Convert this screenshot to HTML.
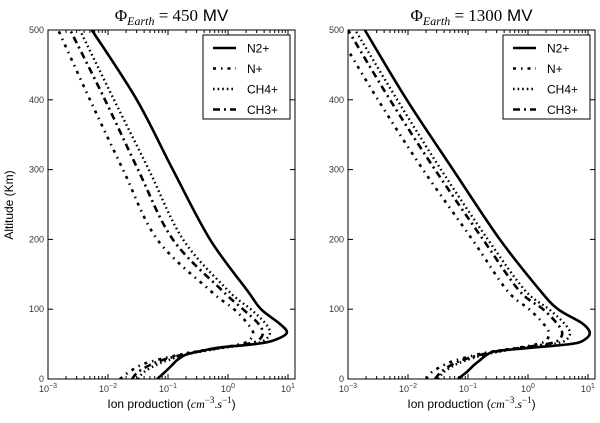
<!DOCTYPE html>
<html><head><meta charset="utf-8"><style>
body{margin:0;background:#fff;width:600px;height:418px;overflow:hidden}
svg text{font-family:"Liberation Sans",sans-serif}
</style></head><body>
<svg id="c" width="600" height="418" viewBox="0 0 600 418" xmlns="http://www.w3.org/2000/svg"></svg>
<script>
const altitudes=[0,10,20,27,35,40,45,50,55,66,80,100,127,200,300,400,500];
const seriesNames=["N2+","N+","CH4+","CH3+"];
// log10 values, stored as production values
const leftN2=[-1.18,-1.05,-0.93,-0.85,-0.7,-0.45,-0.15,0.45,0.75,0.98,0.85,0.55,0.32,-0.30,-0.92,-1.52,-2.27].map(v=>Math.pow(10,v));
const leftN=[-1.8,-1.65,-1.45,-1.2,-0.8,-0.5,-0.1,0.2,0.35,0.42,0.32,0.1,-0.3,-1.18,-1.75,-2.3,-2.83].map(v=>Math.pow(10,v));
const leftCH4=[-1.5,-1.4,-1.2,-1.0,-0.7,-0.4,-0.05,0.4,0.6,0.7,0.62,0.38,0.0,-0.75,-1.32,-1.9,-2.47].map(v=>Math.pow(10,v));
const leftCH3=[-1.6,-1.5,-1.3,-1.1,-0.75,-0.45,-0.1,0.3,0.5,0.58,0.5,0.25,-0.1,-0.92,-1.5,-2.05,-2.63].map(v=>Math.pow(10,v));
const rightN2=[-1.17,-1.02,-0.9,-0.8,-0.68,-0.52,0.08,0.7,0.92,1.03,0.9,0.5,0.2,-0.47,-1.25,-2.02,-2.72].map(v=>Math.pow(10,v));
const rightN=[-1.7,-1.6,-1.4,-1.2,-0.85,-0.55,-0.15,0.15,0.3,0.35,0.25,0.02,-0.35,-0.93,-1.75,-2.5,-3.2].map(v=>Math.pow(10,v));
const rightCH4=[-1.5,-1.4,-1.22,-1.02,-0.72,-0.42,-0.05,0.4,0.62,0.7,0.6,0.35,-0.05,-0.67,-1.45,-2.18,-2.88].map(v=>Math.pow(10,v));
const rightCH3=[-1.55,-1.45,-1.28,-1.1,-0.78,-0.48,-0.1,0.3,0.5,0.57,0.48,0.25,-0.15,-0.75,-1.55,-2.3,-3.0].map(v=>Math.pow(10,v));
const yTicks=[0,100,200,300,400,500];
const xTickExps=[-3,-2,-1,0,1];
const titles=["450","1300"];

const NS="http://www.w3.org/2000/svg";
const svg=document.getElementById('c');
function mk(tag,attrs,parent){const e=document.createElementNS(NS,tag);for(const k in attrs)e.setAttribute(k,attrs[k]);(parent||svg).appendChild(e);return e;}
const styles=[{w:2.6,d:""},{w:2.6,d:"3,5,1.5,5"},{w:2.4,d:"1.6,3"},{w:2.6,d:"7,4,2,4"}];

function panel(ox,idx,data){
  const L=ox+48,R=ox+295,T=30,B=379,dec=60;
  const xs=v=>L+(Math.log10(v)+3)*dec;
  const ys=a=>B-(a/500)*(B-T);
  const g=mk('g',{},svg);
  
  
  const cid='clip'+idx;
  const cp=mk('clipPath',{id:cid},g);mk('rect',{x:L,y:T,width:R-L,height:B-T},cp);
  // series
  data.forEach((arr,si)=>{
    const pts=arr.map((v,i)=>[xs(v),ys(altitudes[i])]);
    let d="M"+pts[0][0].toFixed(1)+","+pts[0][1].toFixed(1);
    for(let i=0;i<pts.length-1;i++){
      const p0=pts[Math.max(0,i-1)],p1=pts[i],p2=pts[i+1],p3=pts[Math.min(pts.length-1,i+2)];
      const c1=[p1[0]+(p2[0]-p0[0])/6,p1[1]+(p2[1]-p0[1])/6];
      const c2=[p2[0]-(p3[0]-p1[0])/6,p2[1]-(p3[1]-p1[1])/6];
      d+=" C"+c1[0].toFixed(1)+","+c1[1].toFixed(1)+" "+c2[0].toFixed(1)+","+c2[1].toFixed(1)+" "+p2[0].toFixed(1)+","+p2[1].toFixed(1);
    }
    const p=mk('path',{d:d,fill:"none",stroke:"#000","stroke-width":styles[si].w,"stroke-dasharray":styles[si].d,"clip-path":"url(#"+cid+")"},g);
    
    
  });
  // frame
  const fr=mk('rect',{x:L,y:T,width:R-L,height:B-T,fill:"none",stroke:"#000","stroke-width":1},g);
  
  
  // y ticks
  yTicks.forEach(t=>{
    const y=ys(t);
    mk('line',{x1:L,x2:L+5,y1:y,y2:y,stroke:"#000"},g);
    mk('line',{x1:R-5,x2:R,y1:y,y2:y,stroke:"#000"},g);
    const tx=mk('text',{x:L-4,y:y+3,"font-size":9,"text-anchor":"end",fill:"#333"},g);
    tx.textContent=t;
    
    
  });
  // x ticks
  xTickExps.forEach(e=>{
    const x=L+(e+3)*dec;
    mk('line',{x1:x,x2:x,y1:B,y2:B-5,stroke:"#000"},g);
    mk('line',{x1:x,x2:x,y1:T,y2:T+5,stroke:"#000"},g);
    if(e<1){for(let m=2;m<10;m++){const xm=x+Math.log10(m)*dec;if(xm<R){mk('line',{x1:xm,x2:xm,y1:B,y2:B-3,stroke:"#000"},g);mk('line',{x1:xm,x2:xm,y1:T,y2:T+3,stroke:"#000"},g);}}}
    const tx=mk('text',{x:x,y:B+13,"font-size":9,"text-anchor":"middle",fill:"#333"},g);
    tx.innerHTML='10<tspan dy="-4" font-size="7">'+(e<0?'\u2212'+(-e):e)+'</tspan>';
    
    
  });
  // x label
  const xl=mk('text',{x:(L+R)/2,y:408,"font-size":12,"text-anchor":"middle"},g);
  xl.innerHTML='Ion production (<tspan font-family="Liberation Serif" font-style="italic">cm</tspan><tspan dy="-5" font-size="9" font-family="Liberation Serif">\u22123</tspan><tspan dy="5" font-family="Liberation Serif">.</tspan><tspan font-family="Liberation Serif" font-style="italic">s</tspan><tspan dy="-5" font-size="9" font-family="Liberation Serif">\u22121</tspan><tspan dy="5">)</tspan>';
  
  
  // title
  const ti=mk('text',{x:(L+R)/2,y:21,"font-size":17,"text-anchor":"middle"},g);
  ti.innerHTML='<tspan font-family="Liberation Serif">\u03A6</tspan><tspan font-family="Liberation Serif" font-style="italic" font-size="12" dy="4">Earth</tspan><tspan font-family="Liberation Serif" dy="-4"> = '+titles[idx]+'</tspan> MV';
  
  
  // legend
  const lg=mk('g',{},g);
  
  
  const lx=ox+203,ly=35;
  mk('rect',{x:lx,y:ly,width:87,height:84,fill:"#fff",stroke:"#000","stroke-width":1},lg);
  seriesNames.forEach((n,si)=>{
    const yy=ly+13+si*20.5;
    const e=mk('g',{},lg);
    
    
    mk('line',{x1:lx+10,x2:lx+33,y1:yy,y2:yy,stroke:"#000","stroke-width":styles[si].w,"stroke-dasharray":styles[si].d},e);
    const t=mk('text',{x:lx+44,y:yy+4.5,"font-size":12},e);t.textContent=n;
  });
}
panel(0,0,[leftN2,leftN,leftCH4,leftCH3]);
panel(300,1,[rightN2,rightN,rightCH4,rightCH3]);
const yl=mk('text',{x:0,y:0,"font-size":12,"text-anchor":"middle",transform:"translate(13,205) rotate(-90)"});
yl.textContent='Altitude (Km)';


</script>
</body></html>
